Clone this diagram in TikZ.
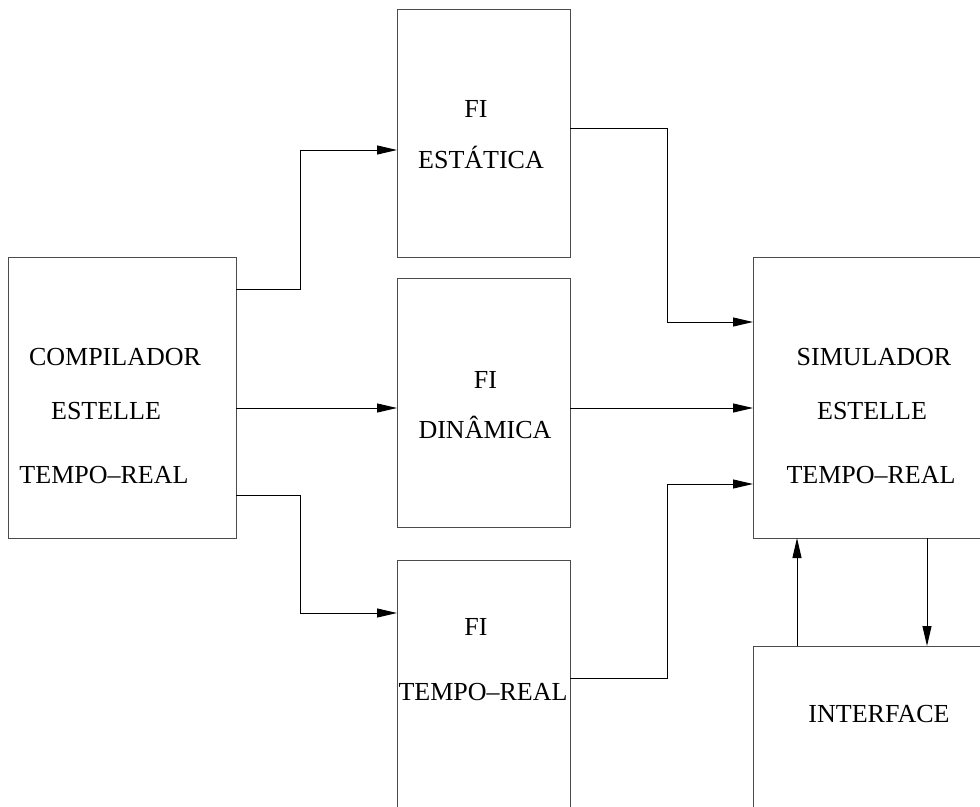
\documentclass[tikz,border=0pt]{standalone}
\usepackage{fontspec}
\setmainfont{Liberation Serif}
\usetikzlibrary{arrows.meta}
\begin{document}
\begin{tikzpicture}[x=1pt,y=-1pt,
  blockbox/.style={draw=black!70, line width=1pt, rectangle, inner sep=0pt, outer sep=0pt},
  txt/.style={font=\fontsize{26}{31}\selectfont, anchor=base, inner sep=0pt},
  flow/.style={draw=black, line width=1pt, -{Triangle[length=20pt,width=9pt]}}]
\useasboundingbox (0,0) rectangle (980,806);
\clip (0,0) rectangle (980,806);

% blocks
\node[blockbox, minimum width=228pt, minimum height=281pt] (comp) at (122,397.5) {};
\node[blockbox, minimum width=173pt, minimum height=248pt] (fie) at (483.5,133) {};
\node[blockbox, minimum width=173pt, minimum height=249pt] (fid) at (483.5,402.5) {};
\node[blockbox, minimum width=173pt, minimum height=270pt] (fit) at (483.5,695) {};
\node[blockbox, minimum width=257pt, minimum height=281pt] (sim) at (881.5,397.5) {};
\node[blockbox, minimum width=257pt, minimum height=204pt] (intf) at (881.5,748) {};

% block texts
\node[txt] (compA) at (115,365) {COMPILADOR};
\node[txt] (compB) at (106,419) {ESTELLE};
\node[txt] (compC) at (104,483) {TEMPO–REAL};

\node[txt] (fieA) at (476,117) {FI};
\node[txt] (fieB) at (481,168) {ESTÁTICA};

\node[txt] (fidA) at (485.5,388) {FI};
\node[txt] (fidB) at (485,438) {DINÂMICA};

\node[txt] (fitA) at (476,635) {FI};
\node[txt] (fitB) at (483,700) {TEMPO–REAL};

\node[txt] (simA) at (874,365) {SIMULADOR};
\node[txt] (simB) at (872,419) {ESTELLE};
\node[txt] (simC) at (871,483) {TEMPO–REAL};

\node[txt] (intfA) at (879,722) {INTERFACE};

% connectors
\draw[flow] (comp.east |- 0,289) -- (300,289) -- (300,150) -- (fie.west |- 0,150);
\draw[flow] (comp.east |- 0,408) -- (fid.west |- 0,408);
\draw[flow] (comp.east |- 0,495) -- (300,495) -- (300,613) -- (fit.west |- 0,613);

\draw[flow] (fie.east |- 0,128) -- (667,128) -- (667,322) -- (sim.west |- 0,322);
\draw[flow] (fid.east |- 0,408) -- (sim.west |- 0,408);
\draw[flow] (fit.east |- 0,678) -- (667,678) -- (667,484) -- (sim.west |- 0,484);

\draw[flow] (intf.north -| 797,0) -- (sim.south -| 797,0);
\draw[flow] (sim.south -| 927,0) -- (intf.north -| 927,0);
\end{tikzpicture}
\end{document}
